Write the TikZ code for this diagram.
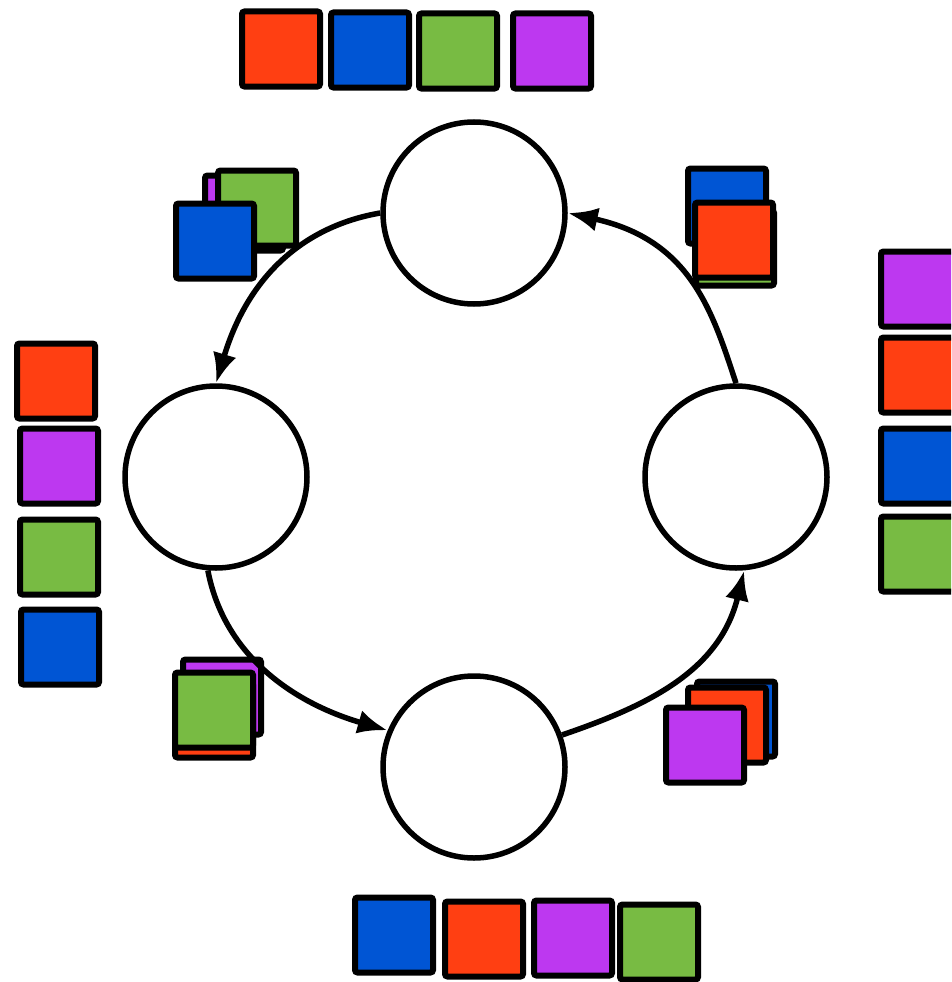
\documentclass[tikz,border=0pt]{standalone}
\usepackage{tikz}
\usetikzlibrary{arrows.meta}
\definecolor{tokred}{HTML}{FF3F12}
\definecolor{tokblue}{HTML}{0055D4}
\definecolor{tokgreen}{HTML}{78BB43}
\definecolor{tokpurple}{HTML}{BD38F0}
\tikzset{
  peer/.style={draw, circle, line width=5.5pt, minimum size=182pt, inner sep=0pt, fill=white},
  tok/.style={draw, line width=6pt, rounded corners=2.5pt, minimum width=78pt, minimum height=75pt, inner sep=0pt, fill=#1},
  pass/.style={-{Latex[length=30pt,width=24pt]}, line width=5.5pt},
}

\begin{document}
\begin{tikzpicture}[x=1pt,y=-1pt]
\useasboundingbox (0,0) rectangle (951,982);
\clip (0,0) rectangle (951,982);
% peers
\node[peer] (nt) at (474,213) {};
\node[peer] (nl) at (216,477) {};
\node[peer] (nr) at (736,477) {};
\node[peer] (nb) at (474,767) {};
% token rows
\foreach \c/\x/\y [count=\i] in {tokred/281/49, tokblue/370/50, tokgreen/458/51, tokpurple/552/51}
  \node[tok=\c] (top\i) at (\x,\y) {};
\foreach \c/\x/\y [count=\i] in {tokblue/394/935, tokred/484/939, tokpurple/573/938, tokgreen/659/942}
  \node[tok=\c] (bot\i) at (\x,\y) {};
\foreach \c/\x/\y [count=\i] in {tokred/56/381, tokpurple/59/466, tokgreen/59/557, tokblue/60/647}
  \node[tok=\c] (lft\i) at (\x,\y) {};
\foreach \c/\x/\y [count=\i] in {tokpurple/920/289, tokred/920/375, tokblue/920/466, tokgreen/920/554}
  \node[tok=\c] (rgt\i) at (\x,\y) {};
% stacks in transit (back to front)
\foreach \c/\x/\y [count=\i] in {tokpurple/244/213, tokgreen/257/208, tokblue/215/241}
  \node[tok=\c] (stl\i) at (\x,\y) {};
\foreach \c/\x/\y [count=\i] in {tokblue/727/206, tokgreen/735/248, tokred/734/240}
  \node[tok=\c] (str\i) at (\x,\y) {};
\foreach \c/\x/\y [count=\i] in {tokpurple/222/697, tokred/214/720, tokgreen/214/710}
  \node[tok=\c] (sbl\i) at (\x,\y) {};
\foreach \c/\x/\y [count=\i] in {tokblue/736/719, tokred/727/725, tokpurple/705/745}
  \node[tok=\c] (sbr\i) at (\x,\y) {};
% ring
\draw[pass] (nt.west) .. controls (310,225) and (250,270) .. (nl.north);
\draw[pass] (nl.265) .. controls (225,660) and (300,705) .. (nb.157);
\draw[pass] (nb.20) .. controls (650,705) and (720,670) .. (nr.275);
\draw[pass] (nr.north) .. controls (712,310) and (690,240) .. (nt.east);
\end{tikzpicture}
\end{document}
